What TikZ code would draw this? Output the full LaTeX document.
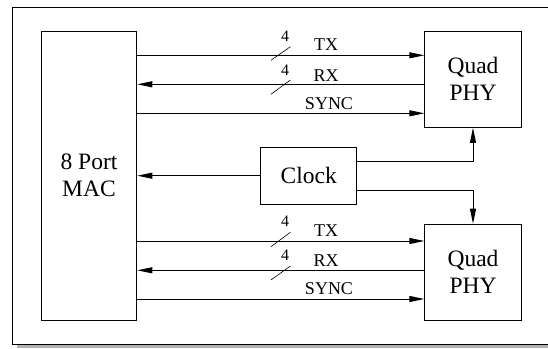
\documentclass[tikz,border=0pt]{standalone}
\usepackage{fontspec}
\setmainfont{Liberation Serif}
\usetikzlibrary{arrows.meta}
\begin{document}
\begin{tikzpicture}[x=1pt,y=-1pt,
  box/.style={draw,line width=1pt,inner sep=0pt},
  big/.style={font=\fontsize{23.5}{27}\selectfont},
  lab/.style={font=\fontsize{18}{20}\selectfont,inner sep=0pt},
  num/.style={font=\fontsize{16}{18}\selectfont,inner sep=0pt},
  sig/.style={line width=0.9pt,-{Triangle[length=15pt,width=6pt]}},
  slash/.style={line width=0.6pt}]
\useasboundingbox (0,0) rectangle (548,348);
\begin{scope}
\clip (0,0) rectangle (548,348);
\fill[gray!60] (17,345) rectangle (560,348);
\draw[line width=1pt] (560,7.3) -- (12.3,7.3) -- (12.3,344) -- (560,344);
\end{scope}
% boxes
\node[box,minimum width=95.6pt,minimum height=288.7pt,align=center,big] (mac) at (89,175.7) {8 Port\\MAC};
\node[box,minimum width=96.3pt,minimum height=96pt,align=center,big] (phy1) at (473,79.3) {Quad\\PHY};
\node[box,minimum width=96.3pt,minimum height=96pt,align=center,big] (phy2) at (473,272.2) {Quad\\PHY};
\node[box,minimum width=95.7pt,minimum height=56.7pt,big] (clk) at (308.8,175.7) {Clock};
% top group
\draw[sig] (mac.east |- 0,55.3) -- (phy1.west |- 0,55.3);
\draw[sig] (phy1.west |- 0,84.3) -- (mac.east |- 0,84.3);
\draw[sig] (mac.east |- 0,113.3) -- (phy1.west |- 0,113.3);
% bottom group
\draw[sig] (mac.east |- 0,241) -- (phy2.west |- 0,241);
\draw[sig] (phy2.west |- 0,270.3) -- (mac.east |- 0,270.3);
\draw[sig] (mac.east |- 0,299) -- (phy2.west |- 0,299);
% clock
\draw[sig] (clk.west) -- (mac.east |- clk.west);
\draw[sig] (clk.east |- 0,161.3) -| (phy1.south);
\draw[sig] (clk.east |- 0,190.3) -| (phy2.north);
% labels top
\node[num] (n1) at (285,36) {4};
\node[lab] (t1) at (326,45) {TX};
\draw[slash] (270.9,60.3) -- (290.4,46.7);
\node[num] (n2) at (285,70.7) {4};
\node[lab] (r1) at (326,75.7) {RX};
\draw[slash] (270.9,94.3) -- (290.4,80);
\node[lab] (s1) at (329,103.3) {SYNC};
% labels bottom
\node[num] (n3) at (285,221.7) {4};
\node[lab] (t2) at (326,230.7) {TX};
\draw[slash] (270.9,246.7) -- (290.4,232.3);
\node[num] (n4) at (285,255) {4};
\node[lab] (r2) at (326,260.3) {RX};
\draw[slash] (270.9,280) -- (290.4,266);
\node[lab] (s2) at (329,288.3) {SYNC};
\end{tikzpicture}
\end{document}
